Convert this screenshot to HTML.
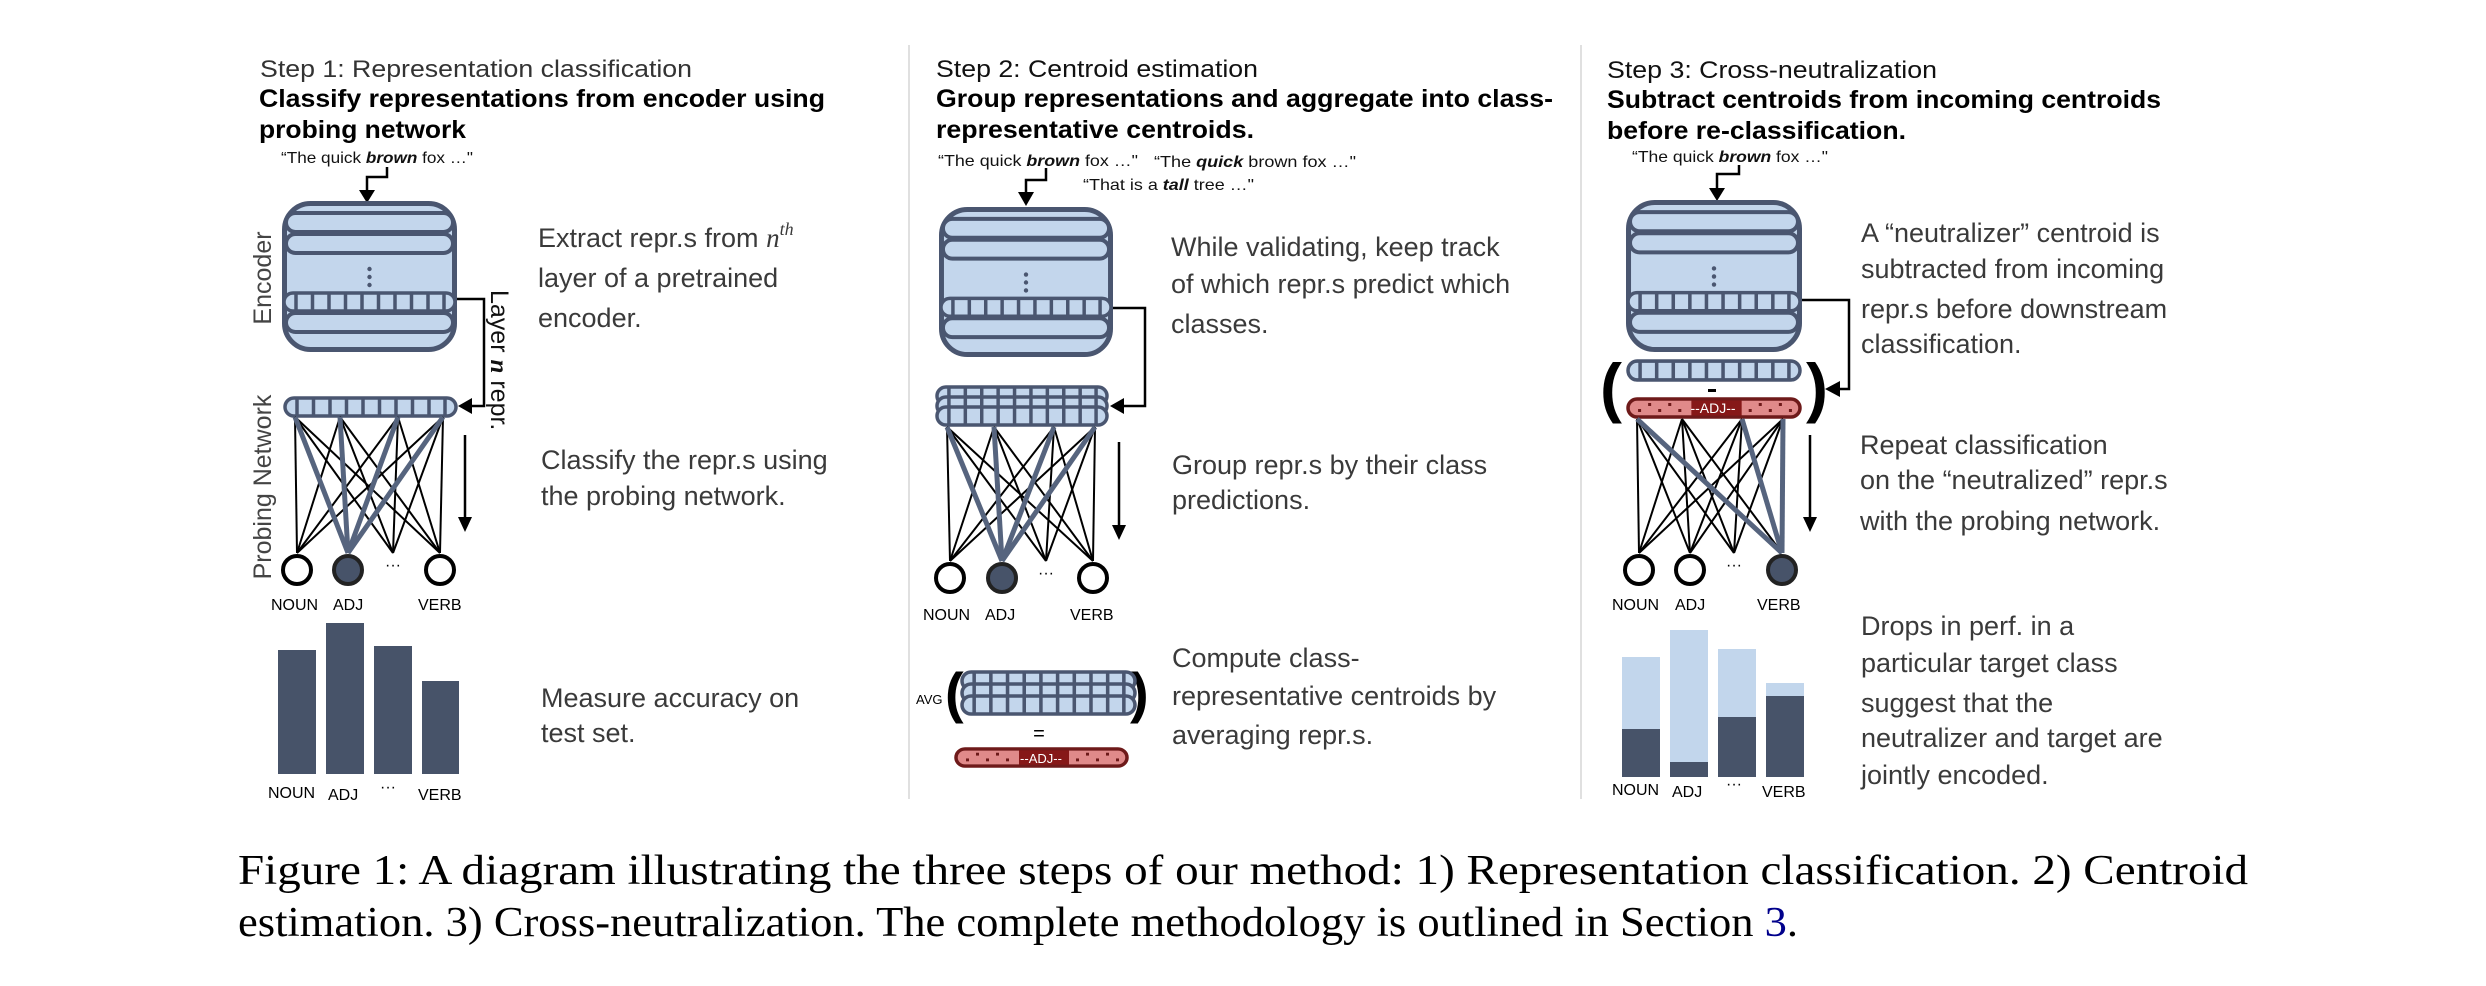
<!DOCTYPE html>
<html><head><meta charset="utf-8"><style>
html,body{margin:0;padding:0;background:#fff;}
svg{display:block;}
.t{font-family:"Liberation Sans",sans-serif;}
</style></head><body>
<svg width="2486" height="986" viewBox="0 0 2486 986" xmlns="http://www.w3.org/2000/svg" class="t">
<defs>
<symbol id="cells" viewBox="0 0 175 22" preserveAspectRatio="none">
<rect x="2" y="2" width="171" height="18" rx="9" fill="#c3d6ec" stroke="#4a5670" stroke-width="3.5"/>
<g stroke="#4a5670" stroke-width="3.5">
<line x1="14" y1="2" x2="14" y2="20"/><line x1="30.5" y1="2" x2="30.5" y2="20"/><line x1="47" y1="2" x2="47" y2="20"/><line x1="63.5" y1="2" x2="63.5" y2="20"/><line x1="80" y1="2" x2="80" y2="20"/><line x1="96.5" y1="2" x2="96.5" y2="20"/><line x1="113" y1="2" x2="113" y2="20"/><line x1="129.5" y1="2" x2="129.5" y2="20"/><line x1="146" y1="2" x2="146" y2="20"/><line x1="162" y1="2" x2="162" y2="20"/>
</g>
</symbol>
<symbol id="enc" viewBox="0 0 175 151" preserveAspectRatio="none">
<rect x="2.5" y="2.5" width="170" height="146" rx="26" fill="#c3d6ec" stroke="#4a5670" stroke-width="5"/>
<rect x="4" y="12" width="167" height="19" rx="9.5" fill="#c3d6ec" stroke="#4a5670" stroke-width="4"/>
<rect x="4" y="33" width="167" height="19" rx="9.5" fill="#c3d6ec" stroke="#4a5670" stroke-width="4"/>
<circle cx="87.5" cy="68" r="2.2" fill="#4a5670"/><circle cx="87.5" cy="76" r="2.2" fill="#4a5670"/><circle cx="87.5" cy="84" r="2.2" fill="#4a5670"/>
<use href="#cells" x="0" y="90" width="175" height="22"/>
<rect x="4" y="112" width="167" height="19" rx="9.5" fill="#c3d6ec" stroke="#4a5670" stroke-width="4"/>
</symbol>
<symbol id="red" viewBox="0 0 175 22" preserveAspectRatio="none">
<rect x="2" y="2" width="171" height="18" rx="9" fill="#e08a8a" stroke="#6e1a1a" stroke-width="3.5"/>
<rect x="65" y="3.5" width="50" height="15" fill="#861818"/>
<g fill="#6e1a1a">
<rect x="12" y="12" width="3" height="3"/><rect x="22" y="6" width="3" height="3"/><rect x="32" y="12" width="3" height="3"/><rect x="42" y="6" width="3" height="3"/><rect x="52" y="12" width="3" height="3"/>
<rect x="122" y="12" width="3" height="3"/><rect x="132" y="6" width="3" height="3"/><rect x="142" y="12" width="3" height="3"/><rect x="152" y="6" width="3" height="3"/><rect x="162" y="12" width="3" height="3"/>
</g>
</symbol>
</defs>

<line x1="909" y1="45" x2="909" y2="799" stroke="#e0e0e0" stroke-width="2"/>
<line x1="1581" y1="45" x2="1581" y2="799" stroke="#e0e0e0" stroke-width="2"/>

<!-- PANEL 1 -->
<text x="260" y="77" font-size="24" fill="#333" textLength="432" lengthAdjust="spacingAndGlyphs">Step 1: Representation classification</text>
<text x="259" y="107" font-size="25" font-weight="bold" fill="#000" textLength="566" lengthAdjust="spacingAndGlyphs">Classify representations from encoder using</text>
<text x="259" y="138" font-size="25" font-weight="bold" fill="#000" textLength="207" lengthAdjust="spacingAndGlyphs">probing network</text>
<text x="281" y="163" font-size="16" fill="#111" textLength="192" lengthAdjust="spacingAndGlyphs">“The quick <tspan font-weight="bold" font-style="italic">brown</tspan> fox …"</text>
<polyline points="387,167 387,177 367,177 367,192" fill="none" stroke="#000" stroke-width="2.5"/>
<polygon points="359,190 375,190 367,203" fill="#000"/>
<use href="#enc" x="282" y="201" width="175" height="151"/>
<polyline points="457,299 484,299 484,406 470,406" fill="none" stroke="#000" stroke-width="2.5"/>
<polygon points="458,406 472,398 472,414" fill="#000"/>
<text transform="translate(491,290) rotate(90)" font-size="25" fill="#111">Layer <tspan font-family="Liberation Serif" font-style="italic" font-weight="bold">n</tspan> repr.</text>
<text transform="translate(271,278) rotate(-90)" font-size="25" fill="#444" text-anchor="middle">Encoder</text>
<text transform="translate(271,487) rotate(-90)" font-size="25" fill="#444" text-anchor="middle">Probing Network</text>
<use href="#cells" x="283" y="396" width="175" height="22"/>
<g stroke="#000" stroke-width="2">
<line x1="295" y1="417" x2="297" y2="553"/><line x1="295" y1="417" x2="393" y2="553"/><line x1="295" y1="417" x2="440" y2="553"/>
<line x1="340" y1="417" x2="297" y2="553"/><line x1="340" y1="417" x2="393" y2="553"/><line x1="340" y1="417" x2="440" y2="553"/>
<line x1="398" y1="417" x2="297" y2="553"/><line x1="398" y1="417" x2="393" y2="553"/><line x1="398" y1="417" x2="440" y2="553"/>
<line x1="443" y1="417" x2="297" y2="553"/><line x1="443" y1="417" x2="393" y2="553"/><line x1="443" y1="417" x2="440" y2="553"/>
</g>
<g stroke="#56647e" stroke-width="5">
<line x1="295" y1="417" x2="348" y2="553"/><line x1="340" y1="417" x2="348" y2="553"/><line x1="398" y1="417" x2="348" y2="553"/><line x1="443" y1="417" x2="348" y2="553"/>
</g>
<circle cx="297" cy="570" r="14" fill="#fff" stroke="#000" stroke-width="4"/>
<circle cx="348" cy="570" r="14" fill="#475369" stroke="#222" stroke-width="4"/>
<circle cx="440" cy="570" r="14" fill="#fff" stroke="#000" stroke-width="4"/>
<text x="393" y="570" font-size="16" fill="#000" text-anchor="middle">···</text>
<line x1="465" y1="435" x2="465" y2="520" stroke="#000" stroke-width="2.5"/>
<polygon points="458,517 472,517 465,532" fill="#000"/>
<g font-size="16" fill="#000">
<text x="271" y="610">NOUN</text><text x="333" y="610">ADJ</text><text x="418" y="610">VERB</text>
</g>
<g fill="#475369">
<rect x="278" y="650" width="38" height="124"/><rect x="326" y="623" width="38" height="151"/><rect x="374" y="646" width="38" height="128"/><rect x="422" y="681" width="37" height="93"/>
</g>
<g font-size="16" fill="#000">
<text x="268" y="798">NOUN</text><text x="328" y="800">ADJ</text><text x="380" y="792">···</text><text x="418" y="800">VERB</text>
</g>
<g font-size="27" fill="#3a3a3a">
<text x="538" y="247">Extract repr.s from <tspan font-family="Liberation Serif" font-style="italic">n</tspan><tspan font-family="Liberation Serif" font-style="italic" font-size="18" dy="-12">th</tspan></text>
<text x="538" y="287">layer of a pretrained</text>
<text x="538" y="327">encoder.</text>
<text x="541" y="469">Classify the repr.s using</text>
<text x="541" y="505">the probing network.</text>
<text x="541" y="707">Measure accuracy on</text>
<text x="541" y="742">test set.</text>
</g>

<!-- PANEL 2 -->
<text x="936" y="77" font-size="24" fill="#111" textLength="322" lengthAdjust="spacingAndGlyphs">Step 2: Centroid estimation</text>
<text x="936" y="107" font-size="25" font-weight="bold" fill="#000" textLength="617" lengthAdjust="spacingAndGlyphs">Group representations and aggregate into class-</text>
<text x="936" y="138" font-size="25" font-weight="bold" fill="#000" textLength="318" lengthAdjust="spacingAndGlyphs">representative centroids.</text>
<g font-size="16" fill="#111">
<text x="938" y="166" textLength="200" lengthAdjust="spacingAndGlyphs">“The quick <tspan font-weight="bold" font-style="italic">brown</tspan> fox …"</text>
<text x="1154" y="167" textLength="202" lengthAdjust="spacingAndGlyphs">“The <tspan font-weight="bold" font-style="italic">quick</tspan> brown fox …"</text>
<text x="1083" y="190" textLength="171" lengthAdjust="spacingAndGlyphs">“That is a <tspan font-weight="bold" font-style="italic">tall</tspan> tree …"</text>
</g>
<polyline points="1046,168 1046,180 1026,180 1026,194" fill="none" stroke="#000" stroke-width="2.5"/>
<polygon points="1018,192 1034,192 1026,206" fill="#000"/>
<use href="#enc" x="939" y="207" width="174" height="150"/>
<polyline points="1113,308 1145,308 1145,406 1122,406" fill="none" stroke="#000" stroke-width="2.5"/>
<polygon points="1110,406 1124,398 1124,414" fill="#000"/>
<use href="#cells" x="935" y="385" width="174" height="22"/>
<use href="#cells" x="935" y="395" width="174" height="22"/>
<use href="#cells" x="935" y="405" width="174" height="22"/>
<g stroke="#000" stroke-width="2">
<line x1="947" y1="427" x2="950" y2="561"/><line x1="947" y1="427" x2="1046" y2="561"/><line x1="947" y1="427" x2="1093" y2="561"/>
<line x1="994" y1="427" x2="950" y2="561"/><line x1="994" y1="427" x2="1046" y2="561"/><line x1="994" y1="427" x2="1093" y2="561"/>
<line x1="1054" y1="427" x2="950" y2="561"/><line x1="1054" y1="427" x2="1046" y2="561"/><line x1="1054" y1="427" x2="1093" y2="561"/>
<line x1="1095" y1="427" x2="950" y2="561"/><line x1="1095" y1="427" x2="1046" y2="561"/><line x1="1095" y1="427" x2="1093" y2="561"/>
</g>
<g stroke="#56647e" stroke-width="5">
<line x1="947" y1="427" x2="1002" y2="561"/><line x1="994" y1="427" x2="1002" y2="561"/><line x1="1054" y1="427" x2="1002" y2="561"/><line x1="1095" y1="427" x2="1002" y2="561"/>
</g>
<circle cx="950" cy="578" r="14" fill="#fff" stroke="#000" stroke-width="4"/>
<circle cx="1002" cy="578" r="14" fill="#475369" stroke="#222" stroke-width="4"/>
<circle cx="1093" cy="578" r="14" fill="#fff" stroke="#000" stroke-width="4"/>
<text x="1046" y="578" font-size="16" fill="#000" text-anchor="middle">···</text>
<line x1="1119" y1="442" x2="1119" y2="528" stroke="#000" stroke-width="2.5"/>
<polygon points="1112,525 1126,525 1119,540" fill="#000"/>
<g font-size="16" fill="#000">
<text x="923" y="620">NOUN</text><text x="985" y="620">ADJ</text><text x="1070" y="620">VERB</text>
</g>
<text x="916" y="704" font-size="13" fill="#000">AVG</text>
<text x="945" y="712" font-size="56" fill="#000" font-weight="bold">(</text>
<text x="1130" y="712" font-size="56" fill="#000" font-weight="bold">)</text>
<use href="#cells" x="960" y="670" width="177" height="22"/>
<use href="#cells" x="960" y="682" width="177" height="22"/>
<use href="#cells" x="960" y="694" width="177" height="22"/>
<text x="1039" y="740" font-size="20" fill="#000" text-anchor="middle">=</text>
<use href="#red" x="954" y="747" width="175" height="21"/>
<text x="1041" y="763" font-size="13" fill="#fff" text-anchor="middle">--ADJ--</text>
<g font-size="27" fill="#3a3a3a">
<text x="1171" y="256">While validating, keep track</text>
<text x="1171" y="293">of which repr.s predict which</text>
<text x="1171" y="333">classes.</text>
<text x="1172" y="474">Group repr.s by their class</text>
<text x="1172" y="509">predictions.</text>
<text x="1172" y="667">Compute class-</text>
<text x="1172" y="705">representative centroids by</text>
<text x="1172" y="744">averaging repr.s.</text>
</g>

<!-- PANEL 3 -->
<text x="1607" y="78" font-size="24" fill="#111" textLength="330" lengthAdjust="spacingAndGlyphs">Step 3: Cross-neutralization</text>
<text x="1607" y="108" font-size="25" font-weight="bold" fill="#000" textLength="554" lengthAdjust="spacingAndGlyphs">Subtract centroids from incoming centroids</text>
<text x="1607" y="139" font-size="25" font-weight="bold" fill="#000" textLength="299" lengthAdjust="spacingAndGlyphs">before re-classification.</text>
<text x="1632" y="162" font-size="16" fill="#111" textLength="196" lengthAdjust="spacingAndGlyphs">“The quick <tspan font-weight="bold" font-style="italic">brown</tspan> fox …"</text>
<polyline points="1739,165 1739,174 1717,174 1717,190" fill="none" stroke="#000" stroke-width="2.5"/>
<polygon points="1709,188 1725,188 1717,201" fill="#000"/>
<use href="#enc" x="1626" y="200" width="176" height="152"/>
<polyline points="1802,300 1849,300 1849,389 1838,389" fill="none" stroke="#000" stroke-width="2.5"/>
<polygon points="1825,389 1840,381 1840,397" fill="#000"/>
<text x="1600" y="410" font-size="66" fill="#000" font-weight="bold">(</text>
<text x="1806" y="410" font-size="66" fill="#000" font-weight="bold">)</text>
<use href="#cells" x="1626" y="359" width="176" height="23"/>
<rect x="1708" y="389" width="8" height="3" fill="#000"/>
<use href="#red" x="1626" y="397" width="176" height="22"/>
<text x="1713" y="413" font-size="14" fill="#fff" text-anchor="middle">--ADJ--</text>
<g stroke="#000" stroke-width="2">
<line x1="1637" y1="419" x2="1639" y2="553"/><line x1="1637" y1="419" x2="1690" y2="553"/><line x1="1637" y1="419" x2="1734" y2="553"/>
<line x1="1682" y1="419" x2="1639" y2="553"/><line x1="1682" y1="419" x2="1690" y2="553"/><line x1="1682" y1="419" x2="1734" y2="553"/><line x1="1682" y1="419" x2="1782" y2="553"/>
<line x1="1742" y1="419" x2="1639" y2="553"/><line x1="1742" y1="419" x2="1690" y2="553"/><line x1="1742" y1="419" x2="1734" y2="553"/>
<line x1="1783" y1="419" x2="1639" y2="553"/><line x1="1783" y1="419" x2="1690" y2="553"/><line x1="1783" y1="419" x2="1734" y2="553"/>
</g>
<g stroke="#56647e" stroke-width="5">
<line x1="1637" y1="419" x2="1782" y2="553"/><line x1="1742" y1="419" x2="1782" y2="553"/><line x1="1783" y1="419" x2="1782" y2="553"/>
</g>
<circle cx="1639" cy="570" r="14" fill="#fff" stroke="#000" stroke-width="4"/>
<circle cx="1690" cy="570" r="14" fill="#fff" stroke="#000" stroke-width="4"/>
<circle cx="1782" cy="570" r="14" fill="#475369" stroke="#222" stroke-width="4"/>
<text x="1734" y="570" font-size="16" fill="#000" text-anchor="middle">···</text>
<line x1="1810" y1="435" x2="1810" y2="520" stroke="#000" stroke-width="2.5"/>
<polygon points="1803,517 1817,517 1810,532" fill="#000"/>
<g font-size="16" fill="#000">
<text x="1612" y="610">NOUN</text><text x="1675" y="610">ADJ</text><text x="1757" y="610">VERB</text>
</g>
<g fill="#c2d6ec">
<rect x="1622" y="657" width="38" height="120"/><rect x="1670" y="630" width="38" height="147"/><rect x="1718" y="649" width="38" height="128"/><rect x="1766" y="683" width="38" height="94"/>
</g>
<g fill="#475369">
<rect x="1622" y="729" width="38" height="48"/><rect x="1670" y="762" width="38" height="15"/><rect x="1718" y="717" width="38" height="60"/><rect x="1766" y="696" width="38" height="81"/>
</g>
<g font-size="16" fill="#000">
<text x="1612" y="795">NOUN</text><text x="1672" y="797">ADJ</text><text x="1726" y="789">···</text><text x="1762" y="797">VERB</text>
</g>
<g font-size="27" fill="#3a3a3a">
<text x="1861" y="242">A “neutralizer” centroid is</text>
<text x="1861" y="278">subtracted from incoming</text>
<text x="1861" y="318">repr.s before downstream</text>
<text x="1861" y="353">classification.</text>
<text x="1860" y="454">Repeat classification</text>
<text x="1860" y="489">on the “neutralized” repr.s</text>
<text x="1860" y="530">with the probing network.</text>
<text x="1861" y="635">Drops in perf. in  a</text>
<text x="1861" y="672">particular target class</text>
<text x="1861" y="712">suggest that the</text>
<text x="1861" y="747">neutralizer and target are</text>
<text x="1861" y="784">jointly encoded.</text>
</g>

<!-- caption -->
<g font-family="Liberation Serif, serif" font-size="42" fill="#000">
<text x="238" y="884" textLength="2010" lengthAdjust="spacingAndGlyphs">Figure 1:  A diagram illustrating the three steps of our method:  1) Representation classification.  2) Centroid</text>
<text x="238" y="936" textLength="1560" lengthAdjust="spacingAndGlyphs">estimation. 3) Cross-neutralization. The complete methodology is outlined in Section <tspan fill="#00008b">3</tspan>.</text>
</g>
</svg>
</body></html>
